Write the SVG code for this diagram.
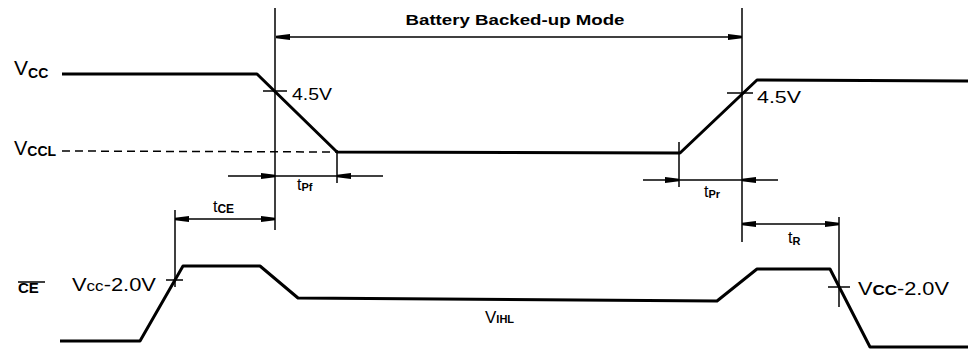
<svg xmlns="http://www.w3.org/2000/svg" width="968" height="353" viewBox="0 0 968 353">
<style>
.sig{fill:none;stroke:#000;stroke-width:3;stroke-linejoin:round}
.dim{fill:none;stroke:#000;stroke-width:1.5}
.dash{fill:none;stroke:#000;stroke-width:1.5;stroke-dasharray:8 5}
.t{font-family:"Liberation Sans",Arial,sans-serif;fill:#000}
.b{font-weight:bold}
</style>
<defs>
<marker id="ah" viewBox="0 0 14 7" refX="14" refY="3.5" markerWidth="14" markerHeight="7" markerUnits="userSpaceOnUse" orient="auto-start-reverse">
<path d="M0,0.5 L14,2.3 L14,4.7 L0,6.5 z" fill="#000"/>
</marker>
</defs>
<rect width="968" height="353" fill="#fff"/>

<g id="signals">
<path class="sig" d="M62,74 L257,74 L337,152 L680,153 L757,80 L968,81"/>
<path class="dash" d="M62,151 L337,152"/>
<path class="sig" d="M60,341 L140,341 L183,266 L260,266 L298,298 L717,301 L757,269 L830,269 L870,347 L968,347"/>
</g>

<g id="connectors">
<line class="dim" x1="275" y1="8" x2="275" y2="230"/>
<line class="dim" x1="742" y1="8" x2="742" y2="242"/>
<line class="dim" x1="337" y1="150" x2="337" y2="183"/>
<line class="dim" x1="679" y1="142" x2="679" y2="187"/>
<line class="dim" x1="175" y1="210" x2="175" y2="287"/>
<line class="dim" x1="839" y1="217" x2="839" y2="307"/>
<line class="dim" x1="263" y1="91" x2="287" y2="91"/>
<line class="dim" x1="727" y1="93" x2="753" y2="93"/>
<line class="dim" x1="166" y1="280" x2="183" y2="280"/>
<line class="dim" x1="828" y1="287" x2="850" y2="287"/>
<line class="dim" x1="276" y1="37" x2="742" y2="37" marker-start="url(#ah)" marker-end="url(#ah)"/>
<line class="dim" x1="175" y1="219" x2="275" y2="219" marker-start="url(#ah)" marker-end="url(#ah)"/>
<line class="dim" x1="742" y1="224" x2="839" y2="224" marker-start="url(#ah)" marker-end="url(#ah)"/>
<line class="dim" x1="228" y1="176" x2="275" y2="176" marker-end="url(#ah)"/>
<line class="dim" x1="275" y1="176" x2="337" y2="176"/>
<line class="dim" x1="383" y1="176" x2="337" y2="176" marker-end="url(#ah)"/>
<line class="dim" x1="643" y1="180" x2="679" y2="180" marker-end="url(#ah)"/>
<line class="dim" x1="679" y1="180" x2="742" y2="180"/>
<line class="dim" x1="778" y1="180" x2="742" y2="180" marker-end="url(#ah)"/>
<line class="dim" x1="18" y1="282" x2="45" y2="282" stroke-width="2"/>
</g>

<g id="labels">
<text class="t b" x="515" y="25" font-size="15" text-anchor="middle" textLength="219" lengthAdjust="spacingAndGlyphs">Battery Backed-up Mode</text>
<text class="t" x="14" y="75" font-size="21">V<tspan font-size="14" dy="3" font-weight="bold">CC</tspan></text>
<text class="t" x="14" y="155" font-size="20">V<tspan font-size="14" dy="1" font-weight="bold">CCL</tspan></text>
<text class="t" x="292" y="100" font-size="17" textLength="40" lengthAdjust="spacingAndGlyphs">4.5V</text>
<text class="t" x="757" y="103" font-size="17" textLength="44" lengthAdjust="spacingAndGlyphs">4.5V</text>
<text class="t" x="297" y="190" font-size="16">t<tspan font-size="11" dy="1" font-weight="bold">Pf</tspan></text>
<text class="t" x="704" y="197" font-size="16">t<tspan font-size="11" dy="1" font-weight="bold">Pr</tspan></text>
<text class="t" x="213" y="212" font-size="16">t<tspan font-size="12" dy="1" font-weight="bold">CE</tspan></text>
<text class="t" x="788" y="243" font-size="16">t<tspan font-size="11" dy="2" font-weight="bold">R</tspan></text>
<text class="t b" x="18" y="293" font-size="15">CE</text>
<text class="t" x="72" y="291" font-size="18" textLength="84" lengthAdjust="spacingAndGlyphs">V<tspan font-size="14">cc</tspan>-2.0V</text>
<text class="t" x="858" y="295" font-size="18" textLength="91" lengthAdjust="spacingAndGlyphs">V<tspan font-size="14" font-weight="bold">CC</tspan>-2.0V</text>
<text class="t" x="485" y="323" font-size="17">V<tspan font-size="11" font-weight="bold">IHL</tspan></text>
</g>
</svg>
